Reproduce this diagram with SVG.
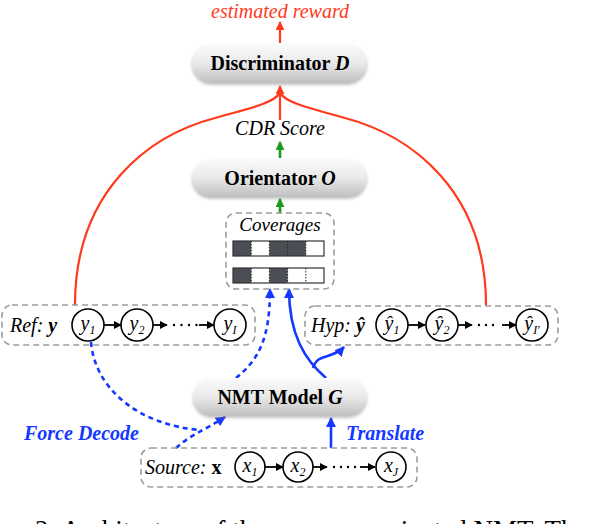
<svg xmlns="http://www.w3.org/2000/svg" width="590" height="524" viewBox="0 0 590 524">
<style>
.pill{fill:url(#pg);filter:url(#sh)}
.nl{font-family:"Liberation Serif",serif;font-weight:bold;font-size:20px;text-anchor:middle;fill:#000}
.it{font-family:"Liberation Serif",serif;font-style:italic;fill:#000}
.box{fill:none;stroke:#9c9c9c;stroke-width:1.6;stroke-dasharray:6 4}
.cir{fill:#fff;stroke:#000;stroke-width:1.6}
.cl{font-family:"Liberation Serif",serif;font-style:italic;font-size:20px;text-anchor:middle}
.blk{stroke:#000;stroke-width:1.8;fill:none}
.red{stroke:#ff3a1c;stroke-width:2.2;fill:none}
.grn{stroke:#1b9a1b;stroke-width:2.6;fill:none}
.blu{stroke:#1438ff;stroke-width:2.6;fill:none}
.dsh{stroke-dasharray:5 4}
.btxt{font-family:"Liberation Serif",serif;font-style:italic;font-weight:bold;font-size:20px;fill:#1438ff}
.dk{fill:#4b4f55}
.div{stroke:#222;stroke-width:1;stroke-dasharray:1.5 1.5}
</style>
<defs>
<linearGradient id="pg" x1="0" y1="0" x2="0" y2="1">
<stop offset="0" stop-color="#fbfbfb"/>
<stop offset="0.5" stop-color="#e9e9e9"/>
<stop offset="1" stop-color="#bfbfbf"/>
</linearGradient>
<filter id="sh" x="-10%" y="-20%" width="120%" height="150%">
<feDropShadow dx="0" dy="2" stdDeviation="1.5" flood-color="#777" flood-opacity="0.45"/>
</filter>
<marker id="ak" viewBox="0 0 10 10" refX="9" refY="5" markerWidth="8" markerHeight="8" markerUnits="userSpaceOnUse" orient="auto"><path d="M0,0 L10,5 L0,10 z" fill="#000"/></marker>
<marker id="ar" viewBox="0 0 10 10" refX="9" refY="5" markerWidth="9" markerHeight="9" markerUnits="userSpaceOnUse" orient="auto"><path d="M0,0 L10,5 L0,10 z" fill="#ff3a1c"/></marker>
<marker id="ag" viewBox="0 0 10 10" refX="9" refY="5" markerWidth="9" markerHeight="9" markerUnits="userSpaceOnUse" orient="auto"><path d="M0,0 L10,5 L0,10 z" fill="#1b9a1b"/></marker>
<marker id="ab" viewBox="0 0 10 10" refX="9" refY="5" markerWidth="10" markerHeight="10" markerUnits="userSpaceOnUse" orient="auto"><path d="M0,0 L10,5 L0,10 z" fill="#1438ff"/></marker>
</defs>

<g id="connectors">
<path class="red" d="M280 43 L280 22" marker-end="url(#ar)"/>
<path class="red" d="M280 120 L280 86" marker-end="url(#ar)"/>
<path class="red" d="M75 305 C75 190 150 135 215 118 C250 108 272 104 280 93"/>
<path class="red" d="M486 305 C486 190 410 135 345 118 C310 108 288 104 280 93"/>
<path class="grn" d="M280 158 L280 142" marker-end="url(#ag)"/>
<path class="grn" d="M280 213 L280 199" marker-end="url(#ag)"/>
<path class="blu dsh" d="M91 342 C95 390 140 425 200 430"/>
<path class="blu dsh" d="M176 448 C190 435 205 430 225 417" marker-end="url(#ab)"/>
<path class="blu dsh" d="M236 378 C258 360 270 340 270 289" marker-end="url(#ab)"/>
<path class="blu" d="M326 378 C305 360 289 335 289 289" marker-end="url(#ab)"/>
<path class="blu" d="M313 368 C318 352 332 360 344 347" marker-end="url(#ab)"/>
<path class="blu" d="M331 448 L331 418" marker-end="url(#ab)"/>
</g>

<g id="estimated-reward">
<text class="it" x="280" y="18" font-size="20" text-anchor="middle" style="fill:#ff3a1c">estimated reward</text>
</g>

<g id="discriminator">
<rect class="pill" x="192" y="44" width="175" height="39" rx="19.5"/>
<text class="nl" x="280" y="70">Discriminator <tspan font-style="italic">D</tspan></text>
</g>

<g id="cdr-score">
<text class="it" x="280" y="135" font-size="20" text-anchor="middle">CDR Score</text>
</g>

<g id="orientator">
<rect class="pill" x="192" y="159" width="175" height="38" rx="19"/>
<text class="nl" x="280" y="185">Orientator <tspan font-style="italic">O</tspan></text>
</g>

<g id="coverages">
<rect class="box" x="226" y="213" width="108" height="76" rx="10"/>
<text class="it" x="280" y="231" font-size="19" text-anchor="middle">Coverages</text>
<rect class="dk" x="233" y="241" width="18.2" height="15"/>
<rect class="dk" x="269.4" y="241" width="36.4" height="15"/>
<rect x="233" y="241" width="91" height="15" fill="none" stroke="#333" stroke-width="1.2"/>
<line class="div" x1="251.2" y1="241" x2="251.2" y2="256"/>
<line class="div" x1="269.4" y1="241" x2="269.4" y2="256"/>
<line class="div" x1="287.6" y1="241" x2="287.6" y2="256"/>
<line class="div" x1="305.8" y1="241" x2="305.8" y2="256"/>
<rect class="dk" x="233" y="268" width="18.2" height="15"/>
<rect class="dk" x="269.4" y="268" width="18.2" height="15"/>
<rect x="233" y="268" width="91" height="15" fill="none" stroke="#333" stroke-width="1.2"/>
<line class="div" x1="251.2" y1="268" x2="251.2" y2="283"/>
<line class="div" x1="269.4" y1="268" x2="269.4" y2="283"/>
<line class="div" x1="287.6" y1="268" x2="287.6" y2="283"/>
<line class="div" x1="305.8" y1="268" x2="305.8" y2="283"/>
</g>

<g id="ref">
<rect class="box" x="2" y="305" width="253" height="40" rx="10"/>
<text class="it" x="10" y="332" font-size="20">Ref: <tspan font-weight="bold">y</tspan></text>
<path class="blk" d="M104 325 L121 325" marker-end="url(#ak)"/>
<path class="blk" d="M153 325 L167 325" marker-end="url(#ak)"/>
<path d="M174 325 L197 325" stroke="#000" stroke-width="2.4" stroke-linecap="round" stroke-dasharray="0 7.5"/>
<path class="blk" d="M199 325 L214 325" marker-end="url(#ak)"/>
<circle class="cir" cx="88" cy="325" r="16"/>
<circle class="cir" cx="137" cy="325" r="16"/>
<circle class="cir" cx="230" cy="325" r="16"/>
<text class="cl" x="88" y="330">y<tspan font-size="12" dy="4">1</tspan></text>
<text class="cl" x="137" y="330">y<tspan font-size="12" dy="4">2</tspan></text>
<text class="cl" x="230" y="330">y<tspan font-size="12" dy="4">I</tspan></text>
</g>

<g id="hyp">
<rect class="box" x="305" y="306" width="253" height="39" rx="10"/>
<text class="it" x="311" y="332" font-size="20">Hyp: <tspan font-weight="bold">ŷ</tspan></text>
<path class="blk" d="M408 325 L425 325" marker-end="url(#ak)"/>
<path class="blk" d="M458 325 L472 325" marker-end="url(#ak)"/>
<path d="M479 325 L500 325" stroke="#000" stroke-width="2.4" stroke-linecap="round" stroke-dasharray="0 7"/>
<path class="blk" d="M502 325 L516 325" marker-end="url(#ak)"/>
<circle class="cir" cx="392" cy="325" r="16"/>
<circle class="cir" cx="442" cy="325" r="16"/>
<circle class="cir" cx="532" cy="325" r="16"/>
<text class="cl" x="392" y="330">ŷ<tspan font-size="12" dy="4">1</tspan></text>
<text class="cl" x="442" y="330">ŷ<tspan font-size="12" dy="4">2</tspan></text>
<text class="cl" x="532" y="330">ŷ<tspan font-size="12" dy="4">I′</tspan></text>
</g>

<g id="nmt-model">
<rect class="pill" x="193" y="378" width="174" height="38" rx="19"/>
<text class="nl" x="280" y="404">NMT Model <tspan font-style="italic">G</tspan></text>
</g>

<g id="labels">
<text class="btxt" x="24" y="440">Force Decode</text>
<text class="btxt" x="346" y="440">Translate</text>
</g>

<g id="source">
<rect class="box" x="141" y="448" width="276" height="39" rx="10"/>
<text class="it" x="145" y="474" font-size="20">Source: <tspan font-style="normal" font-weight="bold">x</tspan></text>
<path class="blk" d="M265 467 L283 467" marker-end="url(#ak)"/>
<path class="blk" d="M313 467 L327 467" marker-end="url(#ak)"/>
<path d="M334 467 L356 467" stroke="#000" stroke-width="2.4" stroke-linecap="round" stroke-dasharray="0 7"/>
<path class="blk" d="M360 467 L375 467" marker-end="url(#ak)"/>
<circle class="cir" cx="250" cy="467" r="15"/>
<circle class="cir" cx="298" cy="467" r="15"/>
<circle class="cir" cx="391" cy="467" r="15"/>
<text class="cl" x="250" y="472">x<tspan font-size="12" dy="4">1</tspan></text>
<text class="cl" x="298" y="472">x<tspan font-size="12" dy="4">2</tspan></text>
<text class="cl" x="391" y="472">x<tspan font-size="12" dy="4">J</tspan></text>
</g>

<g id="caption">
<text x="35" y="539" font-family="Liberation Serif, serif" font-size="27" fill="#000">2: Architecture of the coverage-oriented NMT. Th</text>
</g>
</svg>
